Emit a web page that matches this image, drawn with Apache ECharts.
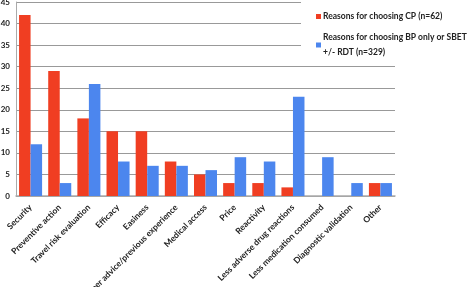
<!DOCTYPE html>
<html><head><meta charset="utf-8">
<script src="https://cdn.jsdelivr.net/npm/echarts@6/dist/echarts.min.js"></script>
<style>html,body{margin:0;padding:0;background:#fff}#c{width:473px;height:287px}</style>
</head><body><div id="c"></div>
<script>
var categories = ['Security','Preventive action','Travel risk evaluation','Efficacy','Easiness','Peer advice/previous experience','Medical access','Price','Reactivity','Less adverse drug reactions','Less medication consumed','Diagnostic validation','Other'];
var cpValues = [42, 29, 18, 15, 15, 8, 5, 3, 3, 2, 0, 0, 3];
var bpValues = [12, 3, 26, 8, 7, 7, 6, 9, 8, 23, 9, 3, 3];
var seriesNames = ['Reasons for choosing CP (n=62)', 'Reasons for choosing BP only or SBET\n+/- RDT (n=329)'];
var yTicks = {min: 0, max: 45, interval: 5};

var chart = echarts.init(document.getElementById('c'));
chart.setOption({
  animation: false,
  textStyle: {fontFamily: 'Lato'},
  grid: {left: 16, right: 78, top: 2, bottom: 91, containLabel: false, outerBoundsMode: 'none'},
  legend: {
    orient: 'vertical', left: 301, top: 0,
    padding: [9, 2, 3, 15],
    backgroundColor: '#fff',
    itemWidth: 5, itemHeight: 5, itemGap: 6,
    icon: 'rect',
    textStyle: {fontSize: 8.5, color: '#222', fontWeight: 'bold', lineHeight: 15, padding: [0,0,0,-3]},
    data: seriesNames
  },
  xAxis: {
    type: 'category', data: categories,
    axisTick: {show: false},
    axisLine: {lineStyle: {color: '#aaa', width: 1.5}},
    axisLabel: {interval: 0, rotate: 45, fontSize: 8.5, color: '#222', fontWeight: 'bold', margin: 10}
  },
  yAxis: {
    type: 'value', min: yTicks.min, max: yTicks.max, interval: yTicks.interval,
    axisLine: {show: true, lineStyle: {color: '#aaa'}},
    axisTick: {show: false},
    splitLine: {lineStyle: {color: '#999', width: 1}},
    axisLabel: {fontSize: 8, color: '#222', fontWeight: 'bold', margin: 6}
  },
  series: [
    {name: seriesNames[0], type: 'bar', data: cpValues, itemStyle: {color: '#f03e22'}, barGap: '0%', barCategoryGap: '21%'},
    {name: seriesNames[1], type: 'bar', data: bpValues, itemStyle: {color: '#4c86ee'}}
  ]
});
</script></body></html>
